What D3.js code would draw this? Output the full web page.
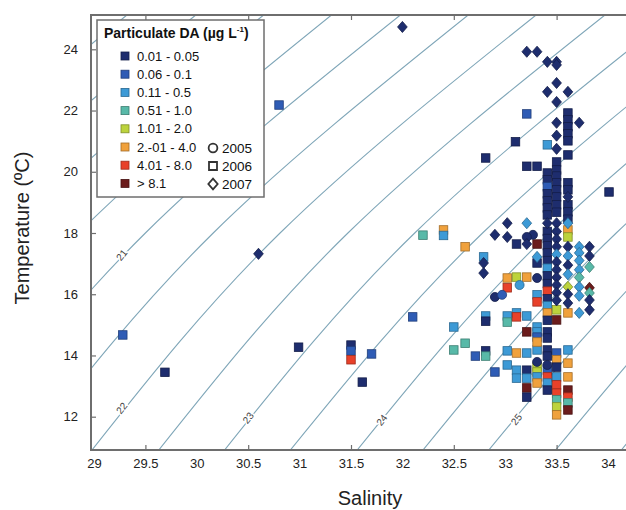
<!DOCTYPE html>
<html>
<head>
<meta charset="utf-8">
<script src="https://cdn.jsdelivr.net/npm/d3@7"></script>
<style>
  body { margin: 0; background: #fff; }
  svg { display: block; font-family: "Liberation Sans", Arial, sans-serif; }
</style>
</head>
<body>
<svg id="chart" width="626" height="510"></svg>
<script>
// axis ticks
const salinityLabels = [29, 29.5, 30, 30.5, 31, 31.5, 32, 32.5, 33, 33.5, 34];
const salinityMarks = [29.5, 30.5, 31.5, 32.5, 33.5];
const tempLabels = [12, 14, 16, 18, 20, 22, 24];

// particulate DA classes
const daClasses = ["0.01 - 0.05", "0.06 - 0.1", "0.11 - 0.5", "0.51 - 1.0", "1.01 - 2.0", "2.-01 - 4.0", "4.01 - 8.0", "> 8.1"];
const daColors = ["#1e2d6e", "#2f5cb5", "#3d9ad6", "#58b9a8", "#bcd33c", "#f0a13c", "#e8412a", "#6b1c1c"];
const years = ["2005", "2006", "2007"];

// isopycnals (sigma-t), salinity where each line crosses the three temperatures
const isoSigma = [19, 19.5, 20, 20.5, 21, 21.5, 22, 22.5, 23, 23.5, 24, 24.5, 25, 25.5, 26];
const isoT = [10.91, 18, 25.12];
const isoSBottom = [25.13, 25.77, 26.41, 27.06, 27.70, 28.34, 28.98, 29.63, 30.27, 30.91, 31.56, 32.20, 32.84, 33.49, 34.13];
const isoSMid = [26.89, 27.54, 28.19, 28.85, 29.50, 30.16, 30.81, 31.47, 32.12, 32.78, 33.43, 34.08, 34.74, 35.39, 36.04];
const isoSTop = [29.32, 29.99, 30.65, 31.31, 31.98, 32.64, 33.30, 33.97, 34.63, 35.29, 35.96, 36.62, 37.28, 37.94, 38.61];
const isoLabels = ["21", "22", "23", "24", "25"];
const isoLabelS = [29.27, 29.27, 30.50, 31.80, 33.11];
const isoLabelT = [17.28, 12.28, 11.96, 11.89, 11.91];

// [salinity, temperature, DA class]
const points2005 = [
  [33.14, 16.30, 2], [33.27, 17.94, 0], [32.90, 15.91, 0], [32.97, 15.98, 1],
  [33.31, 13.79, 0], [33.41, 13.69, 0], [33.31, 16.53, 0], [33.21, 17.87, 0]
];

const points2006 = [
  [29.28, 14.67, 1], [29.69, 13.45, 0], [30.80, 22.18, 1], [30.99, 14.27, 0],
  [31.50, 14.34, 0], [31.50, 14.15, 1], [31.50, 13.86, 6], [31.61, 13.13, 0],
  [31.70, 14.05, 1], [32.10, 15.26, 1], [32.20, 17.93, 3], [32.40, 18.10, 5],
  [32.40, 17.92, 2], [32.61, 17.55, 5], [32.79, 17.22, 2], [32.81, 20.45, 0],
  [33.10, 20.98, 0], [33.21, 21.89, 1], [33.21, 20.18, 0], [33.31, 20.18, 0],
  [33.41, 20.88, 2], [34.01, 19.34, 0],
  // upper columns
  [33.61, 21.92, 0], [33.61, 21.70, 0], [33.61, 21.47, 0], [33.61, 21.24, 0],
  [33.61, 21.01, 0], [33.61, 20.55, 0], [33.61, 19.64, 0], [33.61, 19.41, 0],
  [33.61, 18.92, 0], [33.61, 18.69, 0], [33.61, 18.45, 0], [33.61, 18.10, 5],
  [33.61, 17.87, 4],
  [33.50, 20.32, 0], [33.50, 20.06, 0], [33.50, 19.86, 0], [33.50, 19.64, 0],
  [33.50, 19.41, 0], [33.50, 19.18, 0], [33.50, 18.92, 0], [33.50, 18.68, 0],
  [33.41, 19.96, 0], [33.41, 19.74, 0], [33.41, 19.51, 1], [33.41, 19.28, 0],
  [33.41, 19.05, 0], [33.41, 18.82, 0], [33.41, 18.59, 0], [33.41, 18.05, 0],
  [33.41, 17.82, 0], [33.41, 17.59, 0],
  // middle
  [33.11, 17.64, 0], [33.31, 17.64, 7], [33.31, 17.02, 0], [33.02, 16.53, 5],
  [33.11, 16.56, 4], [33.21, 16.56, 5], [33.02, 16.21, 6], [33.31, 15.98, 2],
  [33.31, 15.75, 6],
  [33.41, 17.35, 0], [33.41, 17.10, 0], [33.41, 16.85, 2], [33.41, 16.60, 0],
  [33.41, 16.35, 0], [33.41, 16.10, 6], [33.41, 15.85, 0], [33.41, 15.62, 2],
  [33.41, 15.39, 5], [33.41, 15.15, 0],
  [33.50, 15.49, 4], [33.50, 15.16, 7], [33.61, 15.39, 5],
  // lower
  [32.50, 14.93, 2], [32.50, 14.18, 3], [32.61, 14.40, 3], [32.71, 13.98, 1],
  [32.81, 15.29, 2], [32.81, 15.12, 0], [32.81, 14.15, 0], [32.81, 13.98, 3],
  [33.02, 15.29, 2], [33.02, 15.09, 3], [33.11, 15.39, 2], [33.11, 15.26, 6],
  [33.21, 15.29, 2], [33.21, 14.77, 7], [33.02, 14.15, 2], [33.11, 14.08, 5],
  [33.21, 14.08, 2], [33.31, 14.18, 2], [33.41, 14.18, 0], [32.90, 13.46, 1],
  [33.02, 13.69, 2], [33.11, 13.52, 2], [33.11, 13.26, 2], [33.21, 13.52, 0],
  [33.21, 13.26, 2], [33.21, 12.94, 7], [33.21, 12.64, 0],
  [33.31, 14.93, 2], [33.31, 14.77, 2], [33.31, 14.60, 1], [33.31, 14.44, 5],
  [33.31, 13.62, 4], [33.31, 13.46, 4], [33.31, 13.30, 2], [33.31, 13.10, 5],
  [33.41, 14.77, 0], [33.41, 14.57, 0], [33.41, 13.98, 0], [33.41, 13.52, 1],
  [33.41, 13.30, 6], [33.41, 13.10, 2], [33.41, 12.87, 0],
  [33.50, 14.08, 1], [33.50, 13.86, 5], [33.50, 13.62, 0], [33.50, 13.30, 2],
  [33.50, 13.04, 6], [33.50, 12.77, 6], [33.50, 12.55, 3], [33.50, 12.32, 4],
  [33.50, 12.06, 5],
  [33.61, 14.18, 2], [33.61, 13.75, 5], [33.61, 13.30, 5], [33.61, 12.87, 7],
  [33.61, 12.64, 6], [33.61, 12.45, 3], [33.61, 12.22, 7]
];

const points2007 = [
  [30.60, 17.32, 0], [32.00, 24.73, 0], [33.21, 23.92, 0], [33.31, 23.92, 0],
  [33.41, 23.59, 0], [33.50, 23.59, 0], [33.50, 23.49, 0], [33.50, 22.90, 0],
  [33.41, 22.61, 0], [33.61, 22.61, 0], [33.50, 22.28, 0], [33.50, 21.60, 0],
  [33.72, 21.60, 0], [33.50, 21.18, 0], [33.50, 20.75, 0], [33.61, 19.18, 0],
  [33.02, 18.32, 0], [33.21, 18.32, 2], [33.41, 18.32, 0], [33.50, 18.32, 0],
  [33.61, 18.32, 2], [32.90, 17.94, 0], [33.02, 17.87, 0], [33.21, 17.64, 0],
  [32.79, 17.02, 0], [32.79, 16.69, 0], [33.31, 17.22, 2],
  [33.50, 18.05, 0], [33.50, 17.80, 0], [33.50, 17.55, 0], [33.50, 17.30, 2],
  [33.50, 17.05, 0], [33.50, 16.80, 0], [33.50, 16.55, 0], [33.50, 16.30, 0],
  [33.50, 16.05, 0], [33.50, 15.80, 0],
  [33.61, 17.55, 0], [33.61, 17.25, 2], [33.61, 16.95, 0], [33.61, 16.65, 2],
  [33.61, 16.24, 4], [33.61, 16.00, 0], [33.61, 15.71, 0],
  [33.72, 17.55, 2], [33.72, 17.35, 2], [33.72, 17.10, 2], [33.72, 16.80, 2],
  [33.72, 16.55, 3], [33.72, 16.24, 2], [33.72, 15.95, 2], [33.72, 15.39, 2],
  [33.82, 17.55, 0], [33.82, 17.25, 0], [33.82, 16.89, 3], [33.82, 16.21, 7],
  [33.82, 16.04, 3], [33.82, 15.81, 0], [33.82, 15.49, 0]
];

const svg = d3.select("#chart");
const plot = { left: 91, top: 15, right: 640, bottom: 450 };

// scales
const x = d3.scaleLinear().domain([29, 34]).range([94, 608]);
const y = d3.scaleLinear().domain([12, 24]).range([416.7, 49.3]);
const color = d3.scaleOrdinal().domain(d3.range(daClasses.length)).range(daColors);

// wider diamond than d3's built-in one
const diamond = {
  draw(context, size) {
    const a = Math.sqrt(size / 2.3), b = a * 1.15;
    context.moveTo(0, -b);
    context.lineTo(a, 0);
    context.lineTo(0, b);
    context.lineTo(-a, 0);
    context.closePath();
  }
};

svg.append("clipPath").attr("id", "plot-clip")
  .append("rect")
  .attr("x", plot.left).attr("y", plot.top)
  .attr("width", plot.right - plot.left).attr("height", plot.bottom - plot.top);

const inner = svg.append("g").attr("clip-path", "url(#plot-clip)");

// isopycnal lines
const isoLine = d3.line()
  .x(d => x(d[0]))
  .y(d => y(d[1]))
  .curve(d3.curveNatural);

isoSigma.forEach((s, i) => {
  const pts = [[isoSBottom[i], isoT[0]], [isoSMid[i], isoT[1]], [isoSTop[i], isoT[2]]];
  inner.append("path")
    .attr("d", isoLine(pts))
    .attr("fill", "none")
    .attr("stroke", "#7fa6b8")
    .attr("stroke-width", 1.1);
});

// isopycnal labels
isoLabels.forEach((t, i) => {
  inner.append("text")
    .attr("transform", `translate(${x(isoLabelS[i])},${y(isoLabelT[i])}) rotate(-52)`)
    .attr("text-anchor", "middle")
    .attr("dy", "0.35em")
    .attr("font-size", 10)
    .attr("fill", "#444")
    .attr("stroke", "#fff")
    .attr("stroke-width", 3)
    .attr("paint-order", "stroke")
    .text(t);
});

// markers
const markerStroke = c => d3.color(color(c)).darker(1.1);

inner.append("g").selectAll("rect")
  .data(points2006)
  .join("rect")
  .attr("x", d => x(d[0]) - 4.25)
  .attr("y", d => y(d[1]) - 4.25)
  .attr("width", 8.5)
  .attr("height", 8.5)
  .attr("fill", d => color(d[2]))
  .attr("stroke", d => markerStroke(d[2]))
  .attr("stroke-width", 0.8);

inner.append("g").selectAll("path")
  .data(points2005)
  .join("path")
  .attr("transform", d => `translate(${x(d[0])},${y(d[1])})`)
  .attr("d", d3.symbol(d3.symbolCircle, 64))
  .attr("fill", d => color(d[2]))
  .attr("stroke", d => markerStroke(d[2]))
  .attr("stroke-width", 0.8);

inner.append("g").selectAll("path")
  .data(points2007)
  .join("path")
  .attr("transform", d => `translate(${x(d[0])},${y(d[1])})`)
  .attr("d", d3.symbol(diamond, 54))
  .attr("fill", d => color(d[2]))
  .attr("stroke", d => markerStroke(d[2]))
  .attr("stroke-width", 0.8);

// frame
svg.append("rect")
  .attr("x", plot.left).attr("y", plot.top)
  .attr("width", plot.right - plot.left).attr("height", plot.bottom - plot.top)
  .attr("fill", "none")
  .attr("stroke", "#6e6e6e")
  .attr("stroke-width", 2);

// inner tick marks
const markAxis = (axis, ty) => {
  const g = svg.append("g").attr("transform", `translate(0,${ty})`).call(axis);
  g.select(".domain").remove();
  g.selectAll("line").attr("stroke", "#6e6e6e").attr("stroke-width", 1.2);
  g.selectAll("text").remove();
};
markAxis(d3.axisBottom(x).tickValues(salinityMarks).tickSize(-5), plot.bottom);
markAxis(d3.axisTop(x).tickValues(salinityMarks).tickSize(-5), plot.top);

const leftMarks = svg.append("g").attr("transform", `translate(${plot.left},0)`)
  .call(d3.axisRight(y).tickValues(tempLabels).tickSize(5));
leftMarks.select(".domain").remove();
leftMarks.selectAll("line").attr("stroke", "#6e6e6e").attr("stroke-width", 1.2);
leftMarks.selectAll("text").remove();

// tick labels
const xAxis = svg.append("g").attr("transform", `translate(0,${plot.bottom})`)
  .call(d3.axisBottom(x).tickValues(salinityLabels).tickSize(0).tickPadding(9).tickFormat(d3.format("")));
xAxis.select(".domain").remove();
xAxis.selectAll("text").attr("font-size", 13).attr("fill", "#222").attr("font-family", "Liberation Sans, Arial, sans-serif");

const yAxis = svg.append("g").attr("transform", `translate(78,0)`)
  .call(d3.axisLeft(y).tickValues(tempLabels).tickSize(0).tickPadding(0));
yAxis.select(".domain").remove();
yAxis.selectAll("text").attr("font-size", 13).attr("fill", "#222").attr("font-family", "Liberation Sans, Arial, sans-serif");

// axis titles
svg.append("text")
  .attr("x", 370).attr("y", 505)
  .attr("text-anchor", "middle")
  .attr("font-size", 20)
  .attr("fill", "#222")
  .text("Salinity");

svg.append("text")
  .attr("transform", "translate(29,228) rotate(-90)")
  .attr("text-anchor", "middle")
  .attr("font-size", 20)
  .attr("fill", "#222")
  .text("Temperature (ºC)");

// legend
const legend = svg.append("g");
legend.append("rect")
  .attr("x", 97).attr("y", 20).attr("width", 167).attr("height", 177)
  .attr("fill", "#fff")
  .attr("stroke", "#6e6e6e")
  .attr("stroke-width", 1.5);

const title = legend.append("text")
  .attr("x", 104).attr("y", 38)
  .attr("font-size", 14)
  .attr("font-weight", "bold")
  .attr("fill", "#111");
title.append("tspan").text("Particulate DA (µg L");
title.append("tspan").attr("font-size", 8).attr("dy", -6).text("-1");
title.append("tspan").attr("dy", 6).text(")");

daClasses.forEach((label, i) => {
  const cy = 56 + i * 18.2;
  legend.append("rect")
    .attr("x", 121).attr("y", cy - 4).attr("width", 8).attr("height", 8)
    .attr("fill", daColors[i])
    .attr("stroke", d3.color(daColors[i]).darker(1.1))
    .attr("stroke-width", 0.8);
  legend.append("text")
    .attr("x", 137).attr("y", cy + 4.6)
    .attr("font-size", 13)
    .attr("fill", "#111")
    .text(label);
});

const yearSymbols = [d3.symbolCircle, d3.symbolSquare, diamond];
const yearSizes = [60, 64, 50];
years.forEach((yr, i) => {
  const cy = 148 + i * 18;
  legend.append("path")
    .attr("transform", `translate(213,${cy})`)
    .attr("d", d3.symbol(yearSymbols[i], yearSizes[i]))
    .attr("fill", "#fff")
    .attr("stroke", "#333")
    .attr("stroke-width", 1.8);
  legend.append("text")
    .attr("x", 222).attr("y", cy + 5)
    .attr("font-size", 13.5)
    .attr("fill", "#111")
    .text(yr);
});
</script>
</body>
</html>
